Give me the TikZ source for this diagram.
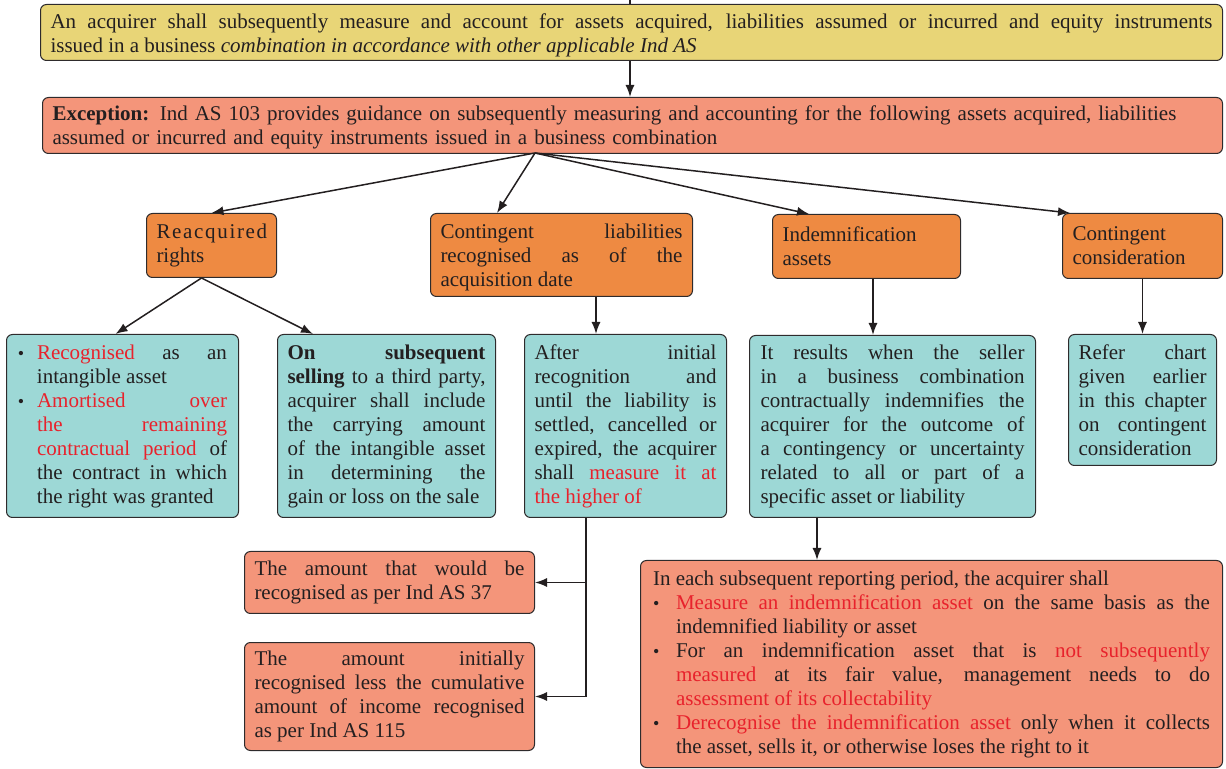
\documentclass[tikz,border=0pt]{standalone}
\usepackage{fontspec}
\setmainfont{Liberation Serif}
\usepackage{xcolor}
\usepackage{tikz}
\usetikzlibrary{arrows.meta,positioning}
\definecolor{ink}{HTML}{231F20}
\definecolor{alert}{HTML}{E8222C}
\definecolor{yellowbox}{HTML}{E8D577}
\definecolor{salmon}{HTML}{F4957A}
\definecolor{orangebox}{HTML}{EE8A42}
\definecolor{tealbox}{HTML}{9DD8D6}
\definecolor{edge}{HTML}{2E2B2C}
\newcommand{\bul}[1][9.5pt]{\hangindent=#1\hangafter=1\noindent\hbox to #1{{\small\textbullet}\hfil}}
\newcommand{\lift}[1]{\rule{0pt}{#1}}
\hbadness=10000
\hfuzz=3pt
\tikzset{
  card/.style={draw=edge,line width=0.5pt,rounded corners=3pt,anchor=north west,inner xsep=5pt,inner ysep=3pt,text=ink,font=\fontsize{10.5}{12}\selectfont},
  yelcard/.style={card,fill=yellowbox},
  salcard/.style={card,fill=salmon},
  orcard/.style={card,fill=orangebox},
  tealcard/.style={card,fill=tealbox},
  arr/.style={-{Latex[length=6pt,width=4.5pt]},line width=0.75pt,color=ink}
}
\begin{document}
\begin{tikzpicture}[x=0.5pt,y=-0.5pt]
  \useasboundingbox (0,0) rectangle (1226,769);
  \node[yelcard,inner ysep=1.5pt,text width=581pt,minimum height=28pt,align=justify] (rule) at (40,4)
    {\lift{10.5pt}An acquirer shall subsequently measure and account for assets acquired, liabilities assumed or incurred and equity instruments\linebreak issued in a business \textit{combination in accordance with other applicable Ind AS}};
  \node[salcard,inner ysep=1.5pt,text width=580pt,minimum height=28pt,align=left] (exc) at (42,97)
    {\lift{9.5pt}\textbf{Exception:} Ind AS 103 provides guidance on subsequently measuring and accounting for the following assets acquired, liabilities\\assumed or incurred and equity instruments issued in a business combination};
  \node[orcard,text width=55pt,minimum height=32pt,align=left] (reacq) at (146,213)
    {{\addfontfeature{LetterSpace=8}Reacquired}\\rights};
  \node[orcard,inner ysep=2.3pt,text width=121pt,minimum height=41.5pt,align=justify] (contliab) at (430,213)
    {\lift{10.2pt}Contingent liabilities\linebreak recognised as of the\linebreak acquisition date};
  \node[orcard,text width=84pt,minimum height=32pt,align=left] (indem) at (772,214)
    {Indemnification\\assets};
  \node[orcard,text width=70pt,minimum height=32.5pt,align=left] (contcons) at (1062,213)
    {Contingent\\consideration};
  \node[tealcard,inner xsep=5.75pt,text width=104.5pt,minimum height=91.5pt,align=justify] (rrbook) at (6,334)
    {\bul\textcolor{alert}{Recognised} as an\linebreak intangible asset\par
     \bul\textcolor{alert}{Amortised over\linebreak the remaining\linebreak contractual period} of\linebreak the contract in which\linebreak the right was granted\par};
  \node[tealcard,text width=99pt,minimum height=91.5pt,align=justify] (rrsell) at (277,334)
    {\textbf{On subsequent\linebreak selling} to a third party,\linebreak acquirer shall include\linebreak the carrying amount\linebreak of the intangible asset\linebreak in determining the\linebreak gain or loss on the sale};
  \node[tealcard,text width=91pt,minimum height=91.5pt,align=justify] (clmeas) at (524,334)
    {After initial\linebreak recognition and\linebreak until the liability is\linebreak settled, cancelled or\linebreak expired, the acquirer\linebreak shall \textcolor{alert}{measure it at\linebreak the higher of}};
  \node[tealcard,inner xsep=5.5pt,text width=132pt,minimum height=91pt,align=justify] (indres) at (749,335)
    {It results when the seller\linebreak in a business combination\linebreak contractually indemnifies the\linebreak acquirer for the outcome of\linebreak a contingency or uncertainty\linebreak related to all or part of a\linebreak specific asset or liability};
  \node[tealcard,text width=64pt,minimum height=65.5pt,align=justify] (ccref) at (1068,334)
    {Refer chart\linebreak given earlier\linebreak in this chapter\linebreak on contingent\linebreak consideration};
  \node[salcard,text width=135pt,minimum height=31pt,align=justify] (ias37) at (244,551)
    {The amount that would be\linebreak recognised as per Ind AS 37};
  \node[salcard,text width=135pt,minimum height=54pt,align=justify] (ias115) at (244,642)
    {The amount initially\linebreak recognised less the cumulative\linebreak amount of income recognised\linebreak as per Ind AS 115};
  \node[salcard,inner xsep=6.25pt,text width=278.5pt,minimum height=103.5pt,align=justify] (period) at (640,560)
    {In each subsequent reporting period, the acquirer shall\par
     \bul[11.5pt]\textcolor{alert}{Measure an indemnification asset} on the same basis as the\linebreak indemnified liability or asset\par
     \bul[11.5pt]For an indemnification asset that is \textcolor{alert}{not subsequently\linebreak measured} at its fair value, management needs to do\linebreak \textcolor{alert}{assessment of its collectability}\par
     \bul[11.5pt]\textcolor{alert}{Derecognise the indemnification asset} only when it collects\linebreak the asset, sells it, or otherwise loses the right to it\par};
  \coordinate (inlet) at (630,0);
  \coordinate (fan) at (535,153);
  \coordinate (clin) at ([xshift=36pt]clmeas.north west);
  \coordinate (indin) at ([xshift=62pt]indres.north west);
  \coordinate (split) at ([xshift=31pt]clmeas.south west);
  \coordinate (perin) at ([xshift=88.5pt]period.north west);
  \draw[line width=0.75pt,ink] (inlet) -- (rule.north -| inlet);
  \draw[arr] (rule.south -| inlet) -- (exc.north -| inlet);
  \draw[arr] (fan) -- (reacq.north);
  \draw[arr] (fan) -- ([xshift=33.5pt]contliab.north west);
  \draw[arr] (fan) -- ([xshift=18.5pt]indem.north west);
  \draw[arr] (fan) -- ([xshift=4pt]contcons.north west);
  \draw[arr] ([xshift=-5pt]reacq.south) -- ([xshift=-3.5pt]rrbook.north);
  \draw[arr] ([xshift=-5pt]reacq.south) -- ([xshift=18pt]rrsell.north west);
  \draw[arr] (contliab.south -| clin) -- (clin);
  \draw[arr] (indem.south -| indin) -- (indin);
  \draw[arr] (contcons.south) -- (ccref.north);
  \draw[arr] (split) |- (ias37.east);
  \draw[arr] (split) |- (ias115.east);
  \draw[arr] (indres.south -| perin) -- (perin);
\end{tikzpicture}
\end{document}
